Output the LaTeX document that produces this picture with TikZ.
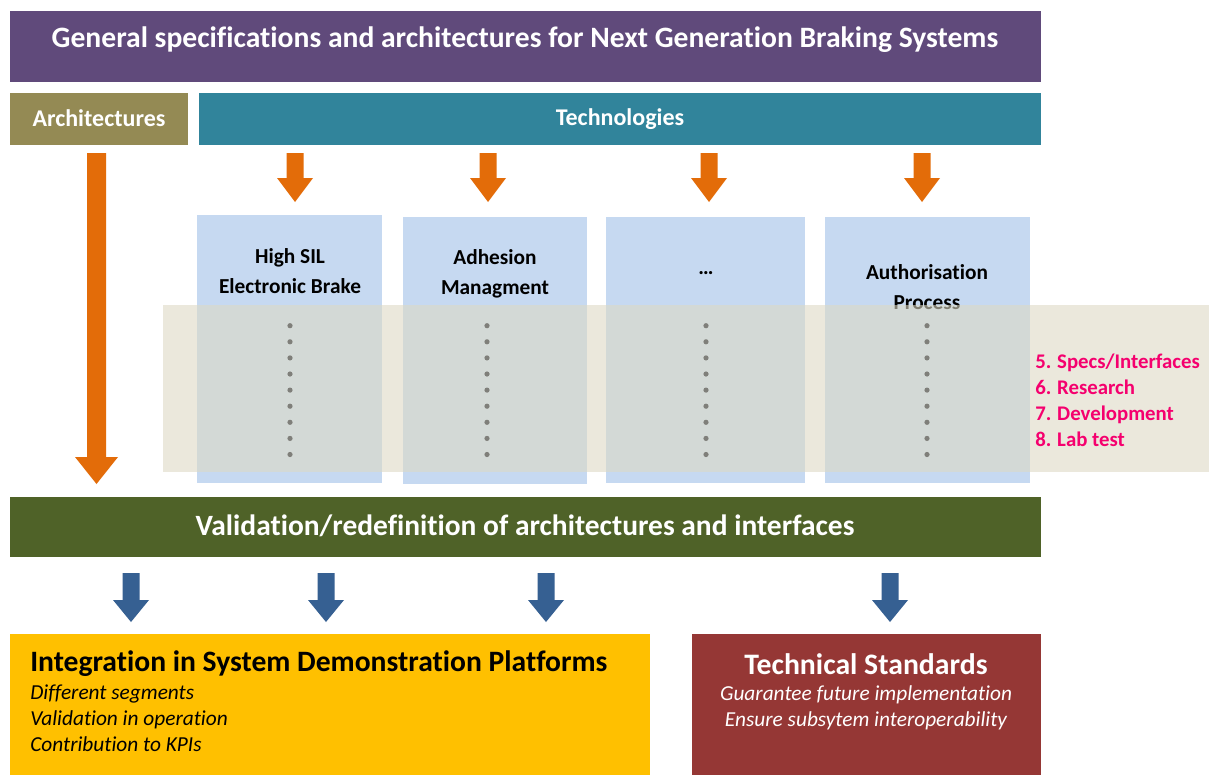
\documentclass[tikz,border=0pt]{standalone}
\usepackage{fontspec}
\setmainfont{Carlito}[Ligatures=CommonOff]
\definecolor{cpurple}{HTML}{604A7B}
\definecolor{colive}{HTML}{948A54}
\definecolor{cteal}{HTML}{31849B}
\definecolor{corange}{HTML}{E36C09}
\definecolor{cblue}{HTML}{C6D9F1}
\definecolor{cbeige}{HTML}{DDD9C3}
\definecolor{cgreen}{HTML}{4F6228}
\definecolor{cbarrow}{HTML}{366092}
\definecolor{cyellow}{HTML}{FFC000}
\definecolor{cred}{HTML}{953735}
\definecolor{cpink}{HTML}{F5006E}
\definecolor{cdot}{HTML}{7F7F7A}
\newcommand\rectnode[6]{%
  \node[#6, minimum width={(#4-#2)*0.75pt}, minimum height={(#5-#3)*0.75pt},
        inner sep=0pt, outer sep=0pt, anchor=north west] (#1) at (#2,#3) {};}
\newcommand\blockarrow[7]{% colour, cx, ytop, ytip, shaft half, head half, head length
  \fill[#1] (#2-#5,#3) -- (#2+#5,#3) -- (#2+#5,#4-#7) -- (#2+#6,#4-#7) -- (#2,#4)
    -- (#2-#6,#4-#7) -- (#2-#5,#4-#7) -- cycle;}
\begin{document}
\begin{tikzpicture}[x=0.75pt,y=-0.75pt,
  whitebold/.style={text=white,font=\bfseries\fontsize{#1}{#1}\selectfont,inner sep=0pt},
  techtext/.style={text=black,font=\bfseries\fontsize{16}{22.5}\selectfont,align=center,inner sep=0pt},
]
\useasboundingbox (0,0) rectangle (1209,775);
\fill[white] (0,0) rectangle (1209,775);
% top bars
\rectnode{title}{10}{11}{1041}{82}{fill=cpurple}
\node[whitebold=22.2] (titletext) at (525,40) {General specifications and architectures for Next Generation Braking Systems};
\rectnode{arch}{10}{93}{188}{145}{fill=colive}
\node[whitebold=18] (archtext) at (99,118) {Architectures};
\rectnode{tech}{199}{93}{1041}{145}{fill=cteal}
\node[whitebold=18] (techtext) at (620,119.5) {Technologies};
% arrows from top
\blockarrow{corange}{96.5}{153}{484}{9.5}{21.5}{27}
\foreach \cx in {295,488,709,922}{\blockarrow{corange}{\cx}{153}{202}{8.5}{18}{24}}
% technology boxes
\rectnode{t1}{197}{215}{382}{483}{fill=cblue}
\rectnode{t2}{403}{217}{587}{484}{fill=cblue}
\rectnode{t3}{606}{217}{805}{483}{fill=cblue}
\rectnode{t4}{825}{217}{1030}{483}{fill=cblue}
\node[techtext] (t1text) at (290,271) {High SIL\\Electronic Brake};
\node[techtext] (t2text) at (495,274) {Adhesion\\Managment};
\node[techtext] (t3text) at (706,273) {…};
\node[techtext] (t4text) at (927,287) {Authorisation\\Process};
% TRL band
\fill[cbeige,opacity=0.58] (163,305) rectangle (1209,472);
\foreach \cx in {290,487,706,927}{
  \foreach \k in {0,...,8}{\fill[cdot] (\cx,325.7+16.1*\k) circle (2.6);}
}
\node[anchor=west,text=cpink,font=\bfseries\fontsize{15.6}{19.5}\selectfont,align=left,inner sep=0pt] (levels) at (1035,400)
  {5.\hspace{0.28em}Specs/Interfaces\\6.\hspace{0.28em}Research\\7.\hspace{0.28em}Development\\8.\hspace{0.28em}Lab test};
% validation bar
\rectnode{valid}{10}{497}{1041}{557}{fill=cgreen}
\node[whitebold=22.1] (validtext) at (525,526) {Validation/redefinition of architectures and interfaces};
\foreach \cx in {131,326,546,890}{\blockarrow{cbarrow}{\cx}{573}{622}{8.5}{18}{22}}
% outputs
\rectnode{integ}{10}{634}{650}{775}{fill=cyellow}
\node[anchor=west,inner sep=0pt,font=\bfseries\fontsize{22.2}{22.2}\selectfont] (integtitle) at (30,664) {Integration in System Demonstration Platforms};
\node[anchor=north west,inner sep=0pt,align=left,font=\itshape\fontsize{16}{19.5}\selectfont] (integtext) at (30,685)
  {Different segments\\Validation in operation\\Contribution to KPIs};
\rectnode{std}{692}{634}{1041}{775}{fill=cred}
\node[whitebold=22.3] (stdtitle) at (866,664) {Technical Standards};
\node[anchor=north,inner sep=0pt,align=center,text=white,font=\itshape\fontsize{16}{19.5}\selectfont] (stdtext) at (866,685)
  {Guarantee future implementation\\Ensure subsytem interoperability};
\end{tikzpicture}
\end{document}
